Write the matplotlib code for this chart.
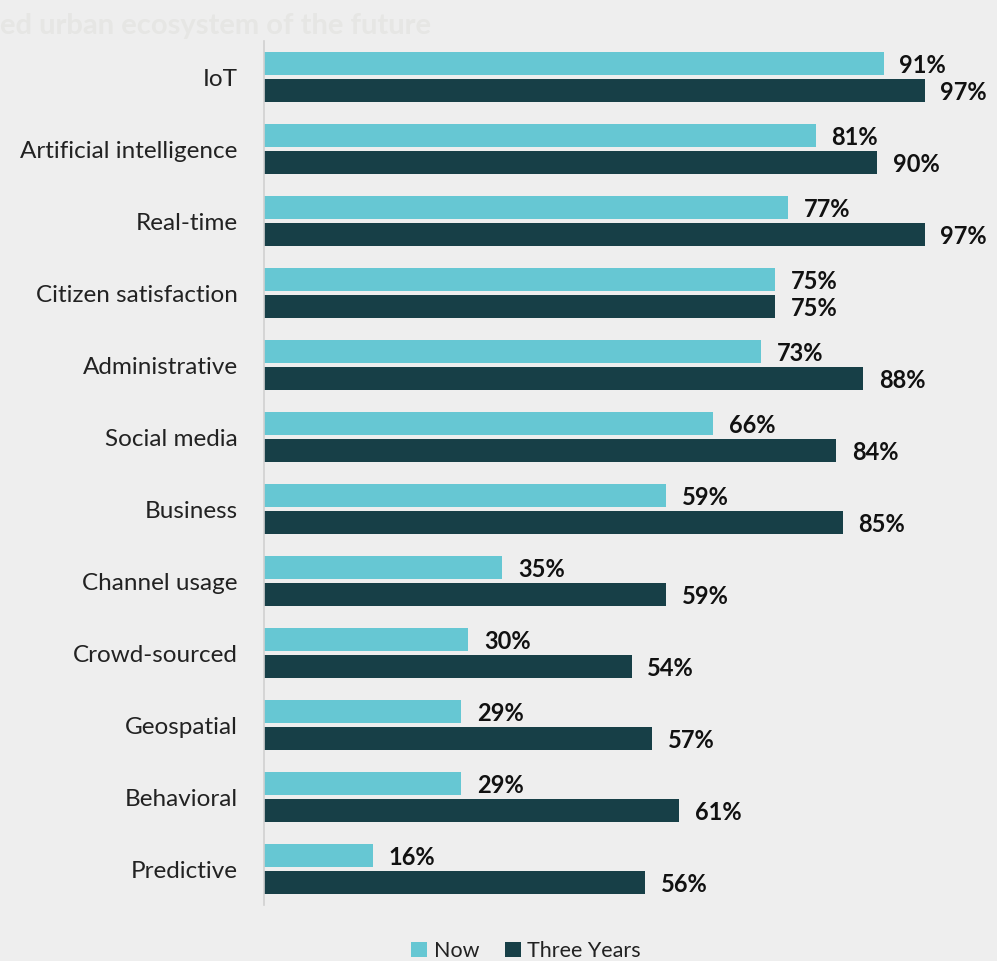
import matplotlib.pyplot as plt
import numpy as np

# ------------------ DATA ------------------
categorias = ["IoT", "Artificial intelligence", "Real-time", "Citizen satisfaction",
              "Administrative", "Social media", "Business", "Channel usage",
              "Crowd-sourced", "Geospatial", "Behavioral", "Predictive"]
ahora = [91, 81, 77, 75, 73, 66, 59, 35, 30, 29, 29, 16]
tres_anios = [97, 90, 97, 75, 88, 84, 85, 59, 54, 57, 61, 56]

COLOR_AHORA = "#66c7d3"
COLOR_TRES = "#173f47"
FONDO = "#eeeeee"

plt.rcParams["font.family"] = ["Lato", "DejaVu Sans"]

fig = plt.figure(figsize=(9.97, 9.61), dpi=100, facecolor=FONDO)
ax = fig.add_axes([264 / 997, 56 / 961, 681 / 997, 864 / 961], facecolor=FONDO)

y = np.arange(len(categorias))
alto = 0.32
off = 0.19
b1 = ax.barh(y - off, ahora, height=alto, color=COLOR_AHORA, label="Now")
b2 = ax.barh(y + off, tres_anios, height=alto, color=COLOR_TRES, label="Three Years")

for barras, vals in ((b1, ahora), (b2, tres_anios)):
    for b, v in zip(barras, vals):
        ax.text(v + 2.3, b.get_y() + b.get_height() / 2 + 0.03, f"{v}%",
                va="center", ha="left", fontsize=17, fontweight="bold", color="#111111")

ax.set_xlim(0, 100)
ax.set_ylim(len(categorias) - 0.5, -0.5)
ax.set_yticks(y)
ax.set_yticklabels(categorias, fontsize=17.5, color="#222222")
ax.tick_params(axis="y", length=0, pad=19)
ax.set_xticks([])
for lado in ("top", "right", "bottom"):
    ax.spines[lado].set_visible(False)
ax.spines["left"].set_color("#d0d0d0")
ax.spines["left"].set_linewidth(1.2)

# titulo casi invisible arriba a la izquierda
fig.text(0.0, 1 - 34 / 961, "ed urban ecosystem of the future",
         ha="left", va="baseline", fontsize=21, fontweight="bold", color="#e6e6e4")

fig.legend(handles=[b1, b2], loc="center", bbox_to_anchor=(526 / 997, 1 - 951 / 961),
           ncol=2, frameon=False, fontsize=15.5, handlelength=0.75, handleheight=0.75,
           handletextpad=0.3, columnspacing=1.2, labelcolor="#222222")

fig.savefig("out.png", dpi=100, facecolor=FONDO)
